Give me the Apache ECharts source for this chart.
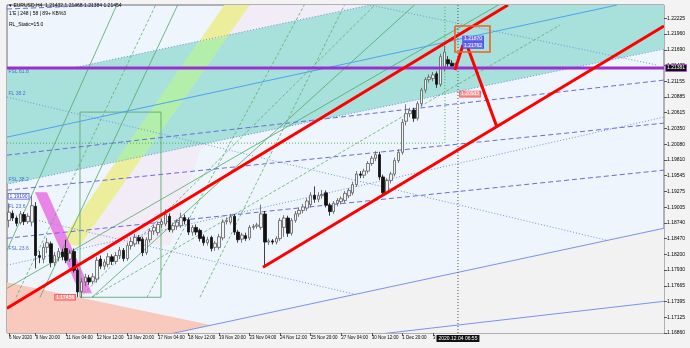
<!DOCTYPE html>
<html><head><meta charset="utf-8">
<script src="https://cdn.jsdelivr.net/npm/echarts@6/dist/echarts.min.js"></script>
<style>html,body{margin:0;padding:0;background:#f3f3f3;}#chart{width:690px;height:348px;}</style>
</head><body><div id="chart"></div>
<script>
// ---------- EURUSD H4 bars, bar index -7 = 6 Nov 2020 16:00 ... 110 = 4 Dec 2020 04:00
const barOpen = [1.1878,1.1890,1.1882,1.1874,1.1888,1.1876,1.1875,1.1902,1.1818,1.1812,1.1832,1.1838,1.1806,1.1815,1.1824,1.1830,1.1812,1.1825,1.1793,1.1757,1.1773,1.1780,1.1774,1.1778,1.1812,1.1800,1.1803,1.1816,1.1808,1.1818,1.1827,1.1813,1.1835,1.1838,1.1849,1.1846,1.1823,1.1845,1.1860,1.1857,1.1871,1.1872,1.1885,1.1862,1.1868,1.1869,1.1883,1.1879,1.1858,1.1866,1.1861,1.1850,1.1840,1.1849,1.1832,1.1832,1.1848,1.1876,1.1875,1.1885,1.1858,1.1846,1.1852,1.1848,1.1866,1.1868,1.1866,1.1889,1.1841,1.1843,1.1841,1.1847,1.1866,1.1882,1.1856,1.1878,1.1889,1.1895,1.1899,1.1905,1.1921,1.1914,1.1920,1.1925,1.1904,1.1893,1.1907,1.1910,1.1912,1.1920,1.1925,1.1939,1.1957,1.1955,1.1962,1.1975,1.1984,1.1990,1.1952,1.1925,1.1946,1.1957,1.1980,1.1994,1.2047,1.2060,1.2066,1.2052,1.2077,1.2100,1.2118,1.2120,1.2128,1.2110,1.2140,1.2152,1.2146,1.21432];
const barClose = [1.1892,1.1882,1.1873,1.1889,1.1876,1.1885,1.1903,1.1818,1.1815,1.1832,1.1840,1.1806,1.1818,1.1825,1.1816,1.1810,1.1822,1.1793,1.1756,1.1773,1.1781,1.1773,1.1782,1.1810,1.1800,1.1807,1.1816,1.1808,1.1818,1.1827,1.1813,1.1835,1.1842,1.1849,1.1843,1.1823,1.1845,1.1860,1.1866,1.1871,1.1876,1.1888,1.1862,1.1869,1.1875,1.1883,1.1877,1.1858,1.1866,1.1858,1.1847,1.1840,1.1845,1.1830,1.1839,1.1850,1.1875,1.1878,1.1884,1.1858,1.1845,1.1853,1.1847,1.1866,1.1868,1.1870,1.1889,1.1841,1.1843,1.1841,1.1847,1.1878,1.1882,1.1856,1.1878,1.1889,1.1895,1.1901,1.1911,1.1921,1.1914,1.1920,1.1922,1.1904,1.1893,1.1907,1.1912,1.1915,1.1924,1.1929,1.1939,1.1957,1.1955,1.1962,1.1975,1.1984,1.1990,1.1952,1.1925,1.1946,1.1957,1.1980,1.1994,1.2045,1.2060,1.2065,1.2052,1.2077,1.2100,1.2118,1.2122,1.2126,1.2110,1.2157,1.2165,1.2145,1.2141,1.21454];
const barLow = [1.1866,1.1877,1.1868,1.1871,1.1870,1.1872,1.1868,1.1796,1.1805,1.1805,1.1822,1.1798,1.1800,1.1808,1.1810,1.1805,1.1807,1.1789,1.1747,1.1746,1.1766,1.1768,1.1769,1.1772,1.1795,1.1794,1.1798,1.1802,1.1803,1.1812,1.1808,1.1809,1.1828,1.1833,1.1838,1.1817,1.1819,1.1840,1.1853,1.1852,1.1865,1.1868,1.1858,1.1857,1.1862,1.1865,1.1871,1.1853,1.1852,1.1853,1.1842,1.1835,1.1835,1.1825,1.1826,1.1828,1.1844,1.1871,1.1871,1.1853,1.1840,1.1840,1.1843,1.1844,1.1862,1.1864,1.1862,1.1800,1.1836,1.1837,1.1837,1.1843,1.1850,1.1850,1.1852,1.1874,1.1884,1.1890,1.1894,1.1900,1.1908,1.1909,1.1915,1.1900,1.1886,1.1889,1.1902,1.1905,1.1908,1.1916,1.1921,1.1935,1.1950,1.1950,1.1958,1.1971,1.1979,1.1947,1.1922,1.1922,1.1941,1.1953,1.1976,1.1990,1.2040,1.2054,1.2046,1.2048,1.2072,1.2095,1.2113,1.2115,1.2104,1.2106,1.2132,1.2140,1.2136,1.21384];
const barHigh = [1.1907,1.1895,1.1885,1.1894,1.1892,1.1890,1.1920,1.1909,1.1826,1.1839,1.1848,1.1842,1.1824,1.1831,1.1829,1.1845,1.1828,1.1830,1.1797,1.1780,1.1787,1.1785,1.1788,1.1816,1.1818,1.1812,1.1822,1.1820,1.1824,1.1833,1.1831,1.1840,1.1848,1.1855,1.1853,1.1850,1.1849,1.1864,1.1871,1.1876,1.1881,1.1897,1.1890,1.1874,1.1880,1.1891,1.1888,1.1883,1.1870,1.1871,1.1864,1.1854,1.1850,1.1852,1.1843,1.1855,1.1880,1.1883,1.1889,1.1889,1.1862,1.1857,1.1857,1.1870,1.1872,1.1874,1.1905,1.1894,1.1847,1.1846,1.1851,1.1882,1.1887,1.1886,1.1882,1.1894,1.1900,1.1906,1.1916,1.1926,1.1936,1.1926,1.1930,1.1929,1.1908,1.1911,1.1916,1.1919,1.1928,1.1933,1.1944,1.1962,1.1962,1.1966,1.1979,1.1988,1.1996,1.1995,1.1956,1.1950,1.1961,1.1985,1.1999,1.2051,1.2076,1.2070,1.2070,1.2081,1.2104,1.2122,1.2127,1.2131,1.2132,1.2162,1.2176,1.2158,1.2151,1.21468];
const firstBarIndex = -7;
const firstBarTimeUTC = Date.UTC(2020, 10, 6, 16);
const emptySlotsRight = 54;

// ---------- axis tick labels
const priceTicks = ['1.16860','1.17125','1.17395','1.17665','1.17930','1.18200','1.18470','1.18740','1.19005','1.19275','1.19545','1.19810','1.20080','1.20350','1.20615','1.20885','1.21155','1.21425','1.21690','1.21960','1.22225'];
const priceTickStart = 1.16860, priceTickStep = 0.0026825, priceTop = 1.22452;
const monthNames = ['Jan','Feb','Mar','Apr','May','Jun','Jul','Aug','Sep','Oct','Nov','Dec'];
const firstLabelText = '6 Nov 2020';
const cursorText = '2020.12.04 06:55';
const cursorBar = 110.56;
const headerLines = ['\u25BE EURUSD,H4  1.21432 1.21468 1.21384 1.21454', '1\u2019E | 248 | 58 | 89+ KB%3', 'RL_Static=15.0'];

// ---------- drawn objects, points are [bar index, price]
const salmonZone = [[-7.5,1.17725],[46.16,1.16991],[35.96,1.16854],[-7.5,1.16854]];
const grayZone = [[35.96,1.16854],[164.5,1.18646],[164.5,1.16700],[35.96,1.16700]];
const lavenderZone = [[11.61,1.18356],[57.0,1.22537],[100.1,1.22537],[43.02,1.19978],[35.16,1.18356]];
const tealZone = [[-7.5,1.21377],[10.82,1.21394],[87.53,1.22452],[164.5,1.22452],[164.5,1.21701],[-7.5,1.19397]];
const yellowBand = [[5.85,1.18356],[11.61,1.18356],[57.0,1.22537],[50.27,1.22537]];
const greenBand = [[20.98,1.19779],[28.08,1.19875],[50.33,1.21923],[42.66,1.21820]];
const magentaBand = [[-0.17,1.19261],[2.97,1.19261],[14.75,1.17537],[11.61,1.17537]];

const greenSolid = [[[-7.5,1.18271],[21.82,1.22537]],[[1.14,1.17469],[37.79,1.22537]],[[14.75,1.17469],[100.61,1.22537]],[[-7.5,1.17622],[123.39,1.22537]]];
const greenDashed = [[[-5.14,1.17469],[32.03,1.22537]],[[29.15,1.17469],[71.03,1.22537]],[[43.02,1.17469],[81.50,1.22537]],[[11.61,1.17469],[90.14,1.22537]],[[14.75,1.17469],[137.26,1.22110]]];
const greenBox = [[11.61,1.20626],[32.81,1.17469]];
const greenDotted = [[-7.5,1.20097],[107.15,1.20097],[107.15,1.22452]];

const lightBlueLine = [[-7.5,1.20199],[152.19,1.22452]];
const blueSolid = [[[35.96,1.16854],[164.5,1.18646]],[[89.36,1.16837],[164.5,1.17400]]];
const blueDashed = [[[-7.5,1.22383],[24.7,1.22469]],[[-7.5,1.19892],[164.5,1.21172]],[[-7.5,1.18476],[164.5,1.19636]],[[-7.5,1.19295],[164.5,1.20438]]];
const blueDotted = [[[10.82,1.21394],[87.53,1.22452]],[[-7.5,1.19397],[164.5,1.21701]],[[87.53,1.22452],[162.66,1.21428]],[[-7.5,1.18902],[83.6,1.17520]],[[-7.5,1.20882],[149.57,1.18441]],[[-7.5,1.18015],[164.5,1.20541]]];
const fibLabels = [['FSL 61.8',-7.1,1.21257],['FL 38.2',-7.1,1.20882],['FSL 38.2',-7.1,1.19414],['FL 23.6',-7.1,1.18953],['FSL 23.6',-7.1,1.18237]];

const redLines = [[[-7.5,1.17281],[123.65,1.22452]],[[59.52,1.17981],[164.5,1.22093]],[[109.77,1.21343],[111.87,1.21769]],[[113.18,1.21718],[120.77,1.20370]]];
const orangeBox = [[109.77,1.22093],[118.94,1.21650]];
const purpleLevel = 1.21377;
const purpleLevelText = '1.21381';

const blueTags = [['1.21870',111.9,1.21871],['1.21762',111.9,1.21761]];
const redTags = [['1.20933',111.1,1.20933],['1.17456',5.1,1.17469]];
const highTag = ['1.19190',-7.1,1.19192];

// ---------- build categories (H4 bars, weekdays only)
const categories = [];
(function(){
  let t = firstBarTimeUTC;
  const total = barOpen.length + emptySlotsRight;
  while (categories.length < total) {
    const d = new Date(t);
    const wd = d.getUTCDay();
    if (wd !== 0 && wd !== 6) {
      const hh = String(d.getUTCHours()).padStart(2,'0');
      categories.push(d.getUTCDate() + ' ' + monthNames[d.getUTCMonth()] + ' ' + hh + ':00');
    }
    t += 4*3600*1000;
  }
})();
const candleData = barOpen.map((o,i)=>[o, barClose[i], barLow[i], barHigh[i]]);
const xMin = firstBarIndex - 0.5, xMax = firstBarIndex - 0.5 + categories.length;
const labelSlot = (i)=> i === 0 || (i + firstBarIndex >= 0 && (i + firstBarIndex) % 8 === 0 && i + firstBarIndex <= 104);

const FONT = '5px "Liberation Sans", Arial, sans-serif';

function L(api, a, b, stroke, w, dash){
  const A = api.coord(a), B = api.coord(b);
  return {type:'line', shape:{x1:A[0],y1:A[1],x2:B[0],y2:B[1]}, style:{stroke:stroke, lineWidth:w, lineDash:dash||null, fill:null}};
}
function PG(api, pts, fill){
  return {type:'polygon', shape:{points:pts.map(p=>api.coord(p))}, style:{fill:fill}};
}
function PL(api, pts, stroke, w, dash){
  return {type:'polyline', shape:{points:pts.map(p=>api.coord(p))}, style:{stroke:stroke, lineWidth:w, lineDash:dash||null, fill:null}};
}
function T(api, pos, text, o){
  const c = api.coord(pos);
  return {type:'text', x:c[0]+(o.dx||0), y:c[1]+(o.dy||0), style:{text:text, font:FONT, fill:o.fill, backgroundColor:o.bg||null, borderColor:o.border||null, borderWidth:o.border?0.8:0, padding:o.pad||[0,0], align:o.align||'left', verticalAlign:o.va||'middle'}};
}
function clipped(params, children){
  const cs = params.coordSys;
  return {type:'group', children:children, clipPath:{type:'rect', shape:{x:cs.x, y:cs.y, width:cs.width, height:cs.height}}};
}

const chart = echarts.init(document.getElementById('chart'));
chart.setOption({
  animation:false,
  backgroundColor:'#f3f3f3',
  grid:{left:7, right:26, top:5, bottom:15, show:true, backgroundColor:'#eef5fc', borderColor:'#6e6e6e', borderWidth:1},
  xAxis:[{
    type:'category', data:categories, boundaryGap:true,
    axisLine:{show:false, onZero:false},
    axisTick:{show:true, interval:(i)=>labelSlot(i), length:3, alignWithLabel:true, lineStyle:{color:'#555'}},
    axisLabel:{interval:(i)=>labelSlot(i), formatter:(v,i)=> i===0 ? firstLabelText : v, align:'left', margin:2, color:'#000', fontSize:4.5, fontFamily:'Liberation Sans'},
    splitLine:{show:false}
  },{
    type:'value', min:xMin, max:xMax, show:false, axisLine:{onZero:false}
  }],
  yAxis:[{
    type:'value', position:'right', min:priceTickStart, max:priceTop, interval:priceTickStep,
    axisLine:{show:false, onZero:false},
    axisTick:{show:true, length:3, lineStyle:{color:'#555'}},
    splitLine:{show:false},
    axisLabel:{margin:3, color:'#000', fontSize:5, fontFamily:'Liberation Sans', showMaxLabel:false, formatter:(v)=>{
      const i = Math.round((v - priceTickStart)/priceTickStep);
      return Math.abs(v - (priceTickStart + i*priceTickStep)) < 1e-6 ? (priceTicks[i]||'') : '';
    }}
  }],
  graphic: headerLines.map((t,k)=>({type:'text', left:9, top:[3,11,22][k], style:{text:t, font:FONT, fill:'#000'}})),
  series:[
    {type:'custom', name:'zones', xAxisIndex:1, yAxisIndex:0, z:1, silent:true, data:[[0,1.2]],
     renderItem:(params, api)=> clipped(params, [
       PG(api, lavenderZone, '#f1ecf6'),
       PG(api, salmonZone, '#f8c9bc'),
       PG(api, grayZone, '#f2f2f2'),
       PG(api, tealZone, '#a8e0db'),
       PG(api, yellowBand, '#ecee9c'),
       PG(api, greenBand, '#b3eeaa'),
       PG(api, magentaBand, '#e985e6')
     ])},
    {type:'custom', name:'thin', xAxisIndex:1, yAxisIndex:0, z:2, silent:true, data:[[0,1.2]],
     renderItem:(params, api)=>{
       const ch = [];
       greenSolid.forEach(s=>ch.push(L(api, s[0], s[1], '#4fa866', 0.8)));
       greenDashed.forEach(s=>ch.push(L(api, s[0], s[1], '#5aad6c', 0.8, [3,2])));
       const b = greenBox;
       ch.push(PL(api, [b[0],[b[1][0],b[0][1]],b[1],[b[0][0],b[1][1]],b[0]], '#5fa870', 0.9));
       ch.push(PL(api, greenDotted, '#3fae4c', 0.9, [1,2]));
       ch.push(L(api, lightBlueLine[0], lightBlueLine[1], '#4ea3f2', 1));
       blueSolid.forEach(s=>ch.push(L(api, s[0], s[1], '#7a92ee', 1)));
       blueDashed.forEach(s=>ch.push(L(api, s[0], s[1], '#6b6be0', 1, [5,3])));
       blueDotted.forEach(s=>ch.push(L(api, s[0], s[1], '#6f95dc', 1, [1,2])));
       fibLabels.forEach(f=>ch.push(T(api, [f[1], f[2]], f[0], {fill:'#4a6fd0', va:'bottom', dy:-1})));
       return clipped(params, ch);
     }},
    {type:'candlestick', name:'EURUSD,H4', xAxisIndex:0, yAxisIndex:0, z:3, barWidth:3, data:candleData,
     itemStyle:{color:'#f2f2f2', color0:'#111111', borderColor:'#5a5a5a', borderColor0:'#111111', borderWidth:0.8}},
    {type:'custom', name:'top', xAxisIndex:1, yAxisIndex:0, z:4, silent:true, data:[[0,1.2]],
     renderItem:(params, api)=>{
       const ch = [];
       ch.push(L(api, [cursorBar, priceTickStart], [cursorBar, priceTop], '#555', 1, [1,2]));
       ch.push(L(api, [xMin, purpleLevel], [xMax, purpleLevel], '#9932cc', 3));
       redLines.forEach(s=>ch.push(L(api, s[0], s[1], '#ff0000', 3)));
       const o = orangeBox;
       ch.push(PL(api, [o[0],[o[1][0],o[0][1]],o[1],[o[0][0],o[1][1]],o[0]], '#ec6420', 1.6));
       blueTags.forEach(t=>ch.push(T(api, [t[1],t[2]], t[0], {fill:'#fff', bg:'#6f6ff0', border:'#4848d8', pad:[0,1]})));
       redTags.forEach(t=>ch.push(T(api, [t[1],t[2]], t[0], {fill:'#fff', bg:'#f79a9a', border:'#ee5555', pad:[0,1]})));
       ch.push(T(api, [highTag[1],highTag[2]], highTag[0], {fill:'#3344cc', bg:'#ffffff', border:'#4455dd', pad:[0,1]}));
       return clipped(params, ch);
     }},
    {type:'custom', name:'axisTags', xAxisIndex:1, yAxisIndex:0, z:6, silent:true, data:[[0,1.2]],
     renderItem:(params, api)=>({type:'group', children:[
       T(api, [xMax, purpleLevel], purpleLevelText, {fill:'#fff', bg:'#111', border:'#9932cc', pad:[0.5,1], dx:2}),
       T(api, [cursorBar, priceTickStart], cursorText, {fill:'#fff', bg:'#111', pad:[1,2], align:'center', va:'top', dy:2})
     ]})}
  ]
});
</script>
</body></html>
